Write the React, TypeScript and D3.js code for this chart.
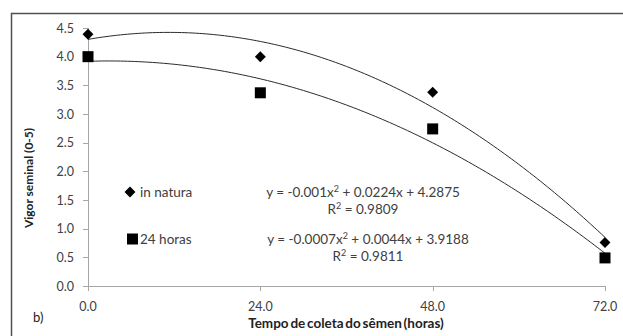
import { useRef, useEffect } from "react";
import * as d3 from "d3";

const hours = [0, 24, 48, 72];
const inNatura = [4.39, 4.0, 3.38, 0.76];
const horas24 = [4.0, 3.37, 2.74, 0.49];
const yTicks = [0, 0.5, 1, 1.5, 2, 2.5, 3, 3.5, 4, 4.5];
const xTicks = [0, 24, 48, 72];
const eqInNatura = ["y = -0.001x", " + 0.0224x + 4.2875", "0.9809"];
const eq24 = ["y = -0.0007x", " + 0.0044x + 3.9188", "0.9811"];

const W = 623;
const H = 336;
const FONT = "Lato, 'Open Sans', sans-serif";
const TXT = "#404040";

// quadratic least-squares fit, same as the spreadsheet trendline
function quadFit(xs: number[], ys: number[]) {
  const s = (f: (x: number, y: number) => number) => d3.sum(xs, (x, i) => f(x, ys[i]));
  const n = xs.length;
  const sx = s((x) => x), sx2 = s((x) => x * x), sx3 = s((x) => x ** 3), sx4 = s((x) => x ** 4);
  const sy = s((_, y) => y), sxy = s((x, y) => x * y), sx2y = s((x, y) => x * x * y);
  const A = [
    [n, sx, sx2, sy],
    [sx, sx2, sx3, sxy],
    [sx2, sx3, sx4, sx2y],
  ];
  for (let i = 0; i < 3; i++) {
    for (let k = i + 1; k < 3; k++) {
      const f = A[k][i] / A[i][i];
      for (let j = i; j < 4; j++) A[k][j] -= f * A[i][j];
    }
  }
  const c = [0, 0, 0];
  for (let i = 2; i >= 0; i--) {
    let v = A[i][3];
    for (let j = i + 1; j < 3; j++) v -= A[i][j] * c[j];
    c[i] = v / A[i][i];
  }
  return (x: number) => c[0] + c[1] * x + c[2] * x * x;
}

export default function App() {
  const svgRef = useRef<SVGSVGElement>(null);

  useEffect(() => {
    if (!svgRef.current) return;
    const svg = d3.select(svgRef.current);
    svg.selectAll("*").remove();

    const x = d3.scaleLinear().domain([0, 72]).range([88, 605]);
    const y = d3.scaleLinear().domain([0, 4.5]).range([286, 28]);

    // outer frame (cropped on the right and bottom)
    svg.append("path")
      .attr("d", `M11.5,${H} L11.5,13.5 L${W},13.5`)
      .attr("fill", "none")
      .attr("stroke", "#505050")
      .attr("stroke-width", 1.5);

    // axes
    const axis = svg.append("g").attr("stroke", "#a6a6a6").attr("stroke-width", 1);
    axis.append("line").attr("x1", x(0)).attr("x2", x(72)).attr("y1", y(0) + 0.5).attr("y2", y(0) + 0.5);
    axis.append("line").attr("x1", x(0) + 0.5).attr("x2", x(0) + 0.5).attr("y1", y(4.5)).attr("y2", y(0) + 5);
    yTicks.forEach((t) => {
      axis.append("line").attr("x1", x(0) - 5).attr("x2", x(0)).attr("y1", Math.round(y(t)) + 0.5).attr("y2", Math.round(y(t)) + 0.5);
    });
    xTicks.forEach((t) => {
      axis.append("line").attr("x1", Math.round(x(t)) + 0.5).attr("x2", Math.round(x(t)) + 0.5).attr("y1", y(0)).attr("y2", y(0) + 5);
    });

    const txt = svg.append("g").attr("font-family", FONT).attr("fill", TXT).attr("font-size", 12.5);
    yTicks.forEach((t) => {
      txt.append("text").attr("x", 74).attr("y", y(t) + 4.5).attr("text-anchor", "end").text(t.toFixed(1));
    });
    xTicks.forEach((t) => {
      txt.append("text").attr("x", x(t)).attr("y", 311).attr("text-anchor", "middle").text(t.toFixed(1));
    });

    svg.append("text").attr("x", 33).attr("y", 322).attr("font-family", FONT).attr("font-size", 13).attr("fill", "#222").text("b)");

    svg.append("text")
      .attr("x", 346).attr("y", 328)
      .attr("text-anchor", "middle")
      .attr("font-family", FONT).attr("font-size", 13.5).attr("font-weight", "bold").attr("fill", "#222")
      .attr("word-spacing", -1.5)
      .text("Tempo de coleta do sêmen (horas)");
    svg.append("text")
      .attr("transform", `translate(33,178) rotate(-90)`)
      .attr("text-anchor", "middle")
      .attr("font-family", FONT).attr("font-size", 12).attr("font-weight", "bold").attr("fill", "#222")
      .text("Vigor seminal (0-5)");

    // trendlines
    const grid = d3.range(0, 72.01, 0.5);
    const line = d3.line<number>().x((d) => x(d));
    [inNatura, horas24].forEach((vals) => {
      const f = quadFit(hours, vals);
      svg.append("path")
        .datum(grid)
        .attr("fill", "none")
        .attr("stroke", "#2a2a2a")
        .attr("stroke-width", 1)
        .attr("d", line.y((d) => y(f(d))));
    });

    const diamond = d3.symbol().type(d3.symbolDiamond2).size(76);
    // points
    svg.append("g").selectAll("path").data(inNatura).enter().append("path")
      .attr("d", diamond)
      .attr("transform", (d, i) => `translate(${x(hours[i])},${y(d)})`)
      .attr("fill", "#000");
    svg.append("g").selectAll("rect").data(horas24).enter().append("rect")
      .attr("x", (d, i) => x(hours[i]) - 5.5)
      .attr("y", (d) => y(d) - 5.5)
      .attr("width", 11).attr("height", 11)
      .attr("fill", "#000");

    // legend
    svg.append("path").attr("d", diamond).attr("transform", "translate(130,192)").attr("fill", "#000");
    svg.append("rect").attr("x", 127).attr("y", 233.5).attr("width", 11).attr("height", 11).attr("fill", "#000");
    txt.append("text").attr("x", 140).attr("y", 197).attr("font-size", 13.5).text("in natura");
    txt.append("text").attr("x", 140).attr("y", 244).attr("font-size", 13.5).text("24 horas");

    // equations
    const eqs = [
      { e: eqInNatura, cx: 363, y1: 197, y2: 214 },
      { e: eq24, cx: 368, y1: 244, y2: 261 },
    ];
    eqs.forEach(({ e, cx, y1, y2 }) => {
      const t1 = txt.append("text").attr("x", cx).attr("y", y1).attr("text-anchor", "middle").attr("font-size", 13.5);
      t1.append("tspan").text(e[0]);
      t1.append("tspan").attr("dy", -5).attr("font-size", 9).text("2");
      t1.append("tspan").attr("dy", 5).text(e[1]);
      const t2 = txt.append("text").attr("x", cx).attr("y", y2).attr("text-anchor", "middle").attr("font-size", 13.5);
      t2.append("tspan").text("R");
      t2.append("tspan").attr("dy", -5).attr("font-size", 9).text("2");
      t2.append("tspan").attr("dy", 5).text(` = ${e[2]}`);
    });
  }, []);

  return (
    <svg ref={svgRef} width={W} height={H} style={{ position: "absolute", left: 0, top: 0, background: "#fff" }} />
  );
}
